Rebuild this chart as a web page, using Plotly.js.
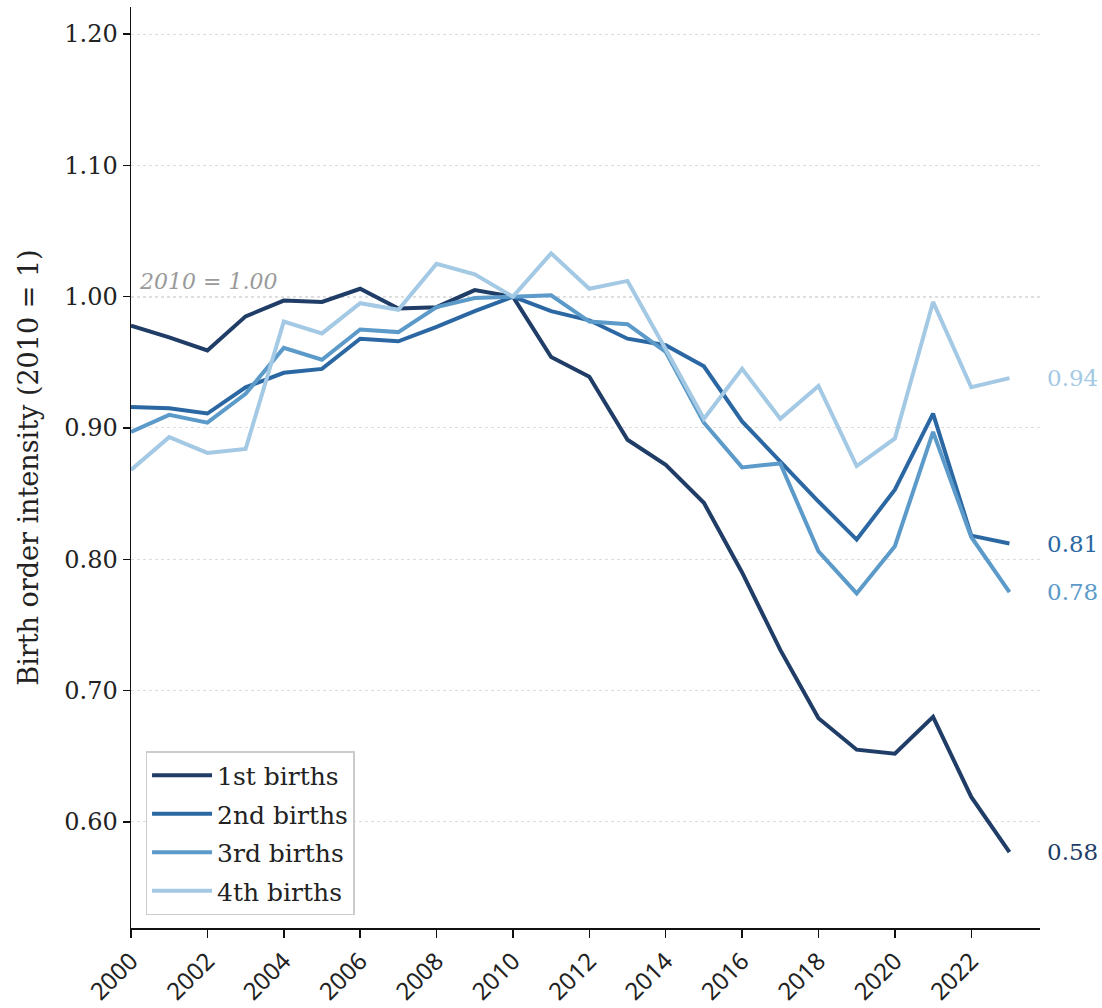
<!DOCTYPE html>
<html>
<head>
<meta charset="utf-8">
<script src="https://cdn.plot.ly/plotly-3.0.1.min.js"></script>
<style>html,body{margin:0;padding:0;background:#fff;} #chart{width:1102px;height:1008px;}</style>
</head>
<body>
<div id="chart"></div>
<script>
const years = [2000,2001,2002,2003,2004,2005,2006,2007,2008,2009,2010,2011,2012,2013,2014,2015,2016,2017,2018,2019,2020,2021,2022,2023];
const firstBirths  = [0.978,0.969,0.959,0.985,0.997,0.996,1.006,0.991,0.992,1.005,1.000,0.954,0.939,0.891,0.872,0.843,0.790,0.731,0.679,0.655,0.652,0.680,0.619,0.577];
const secondBirths = [0.916,0.915,0.911,0.931,0.942,0.945,0.968,0.966,0.977,0.989,1.000,0.989,0.982,0.968,0.963,0.947,0.905,0.874,0.844,0.815,0.853,0.911,0.818,0.812];
const thirdBirths  = [0.897,0.910,0.904,0.926,0.961,0.952,0.975,0.973,0.992,0.999,1.000,1.001,0.981,0.979,0.958,0.904,0.870,0.873,0.806,0.774,0.810,0.897,0.817,0.775];
const fourthBirths = [0.868,0.893,0.881,0.884,0.981,0.972,0.995,0.990,1.025,1.017,1.000,1.033,1.006,1.012,0.960,0.907,0.945,0.907,0.932,0.871,0.892,0.996,0.931,0.938];
const seriesNames = ["1st births","2nd births","3rd births","4th births"];
const seriesColors = ["#1f3d66","#2b68a3","#5b9ac9","#a4c9e4"];
const yTicks = [0.60,0.70,0.80,0.90,1.00,1.10,1.20];
const xTicks = [2000,2002,2004,2006,2008,2010,2012,2014,2016,2018,2020,2022];
const refLabel = "2010 = 1.00";
const yTitle = "Birth order intensity (2010 = 1)";

const allSeries = [firstBirths, secondBirths, thirdBirths, fourthBirths];
const FONT = "DejaVu Serif, serif";
const XFONT = "Noto Sans, Liberation Sans, sans-serif";

const traces = allSeries.map((s, i) => ({
  x: years, y: s, type: "scatter", mode: "lines", name: seriesNames[i],
  legendgroup: "g" + i,
  line: {color: seriesColors[i], width: 4}
}));

const annotations = allSeries.map((s, i) => ({
  x: years[years.length-1], y: s[s.length-1], xref: "x", yref: "y",
  text: s[s.length-1].toFixed(2), showarrow: false, xanchor: "left", yanchor: "middle",
  xshift: 36, font: {family: FONT, size: 23, color: seriesColors[i]}
}));
annotations.push({
  x: 0.007, y: 1.00, xref: "paper", yref: "y", text: "<i>" + refLabel + "</i>", showarrow: false,
  xanchor: "left", yanchor: "bottom", yshift: 1, font: {family: FONT, size: 22, color: "#9a9a9a"}
});

const layout = {
  width: 1102, height: 1008,
  margin: {l: 131, r: 62, t: 7, b: 80},
  paper_bgcolor: "#fff", plot_bgcolor: "#fff",
  font: {family: FONT, size: 22, color: "#222"},
  showlegend: true,
  legend: {
    x: 0.016, y: 0.014, xanchor: "left", yanchor: "bottom",
    bgcolor: "rgba(255,255,255,0.9)", bordercolor: "#cccccc", borderwidth: 1.5,
    font: {family: FONT, size: 25, color: "#222"}, tracegroupgap: 3, itemwidth: 60
  },
  xaxis: {
    range: [2000, 2023.8], tickvals: xTicks, ticktext: xTicks.map(String), tickangle: -45,
    showgrid: false, zeroline: false, showline: true, linecolor: "#111", linewidth: 1.5,
    ticks: "outside", ticklen: 8, tickwidth: 1.5, tickcolor: "#111",
    tickfont: {family: XFONT, size: 24, color: "#222"}
  },
  yaxis: {
    range: [0.5192, 1.2206], tickvals: yTicks, ticktext: yTicks.map(v => v.toFixed(2)),
    showgrid: true, gridcolor: "#dddddd", gridwidth: 1, griddash: "dot",
    zeroline: false, showline: true, linecolor: "#111", linewidth: 1.5,
    ticks: "outside", ticklen: 7, tickwidth: 1.5, tickcolor: "#111",
    tickfont: {family: FONT, size: 24, color: "#222"},
    title: {text: yTitle, font: {family: FONT, size: 27, color: "#222"}, standoff: 18}
  },
  shapes: [{
    type: "line", xref: "paper", yref: "y", x0: 0, x1: 1, y0: 1.0, y1: 1.0,
    line: {color: "#888888", width: 1.3, dash: "dot"}, layer: "below"
  }],
  annotations: annotations
};

Plotly.newPlot("chart", traces, layout, {displayModeBar: false, staticPlot: true});
</script>
</body>
</html>
